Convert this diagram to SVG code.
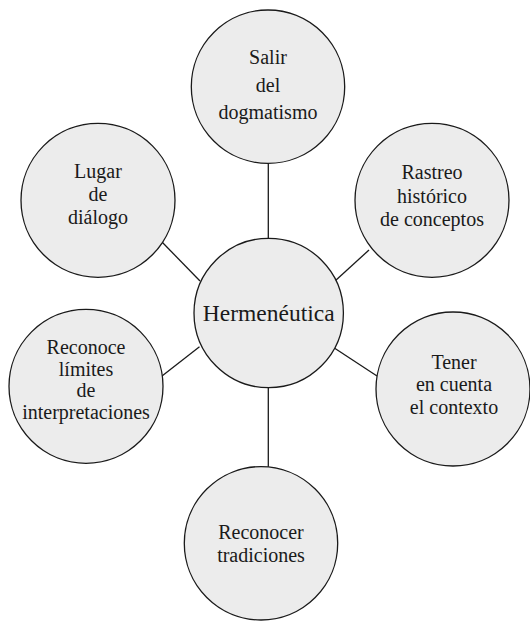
<svg xmlns="http://www.w3.org/2000/svg" width="530" height="621" viewBox="0 0 530 621">
<rect width="530" height="621" fill="#ffffff"/>
<g id="connectors" stroke="#1a1a1a" stroke-width="1.3" fill="none">
<line x1="268.3" y1="163" x2="268.3" y2="240"/>
<line x1="268.3" y1="387" x2="268.3" y2="467"/>
<line x1="162" y1="242" x2="200" y2="281"/>
<line x1="369" y1="250" x2="335" y2="281"/>
<line x1="199.5" y1="346.7" x2="162" y2="376"/>
<line x1="334.7" y1="348.3" x2="377" y2="376"/>
</g>
<g id="salir">
<circle cx="268" cy="86.7" r="76.7" fill="#ececec" stroke="#1a1a1a" stroke-width="1.3"/>
<text x="268" y="63.5" font-family="Liberation Serif" font-size="20" text-anchor="middle" fill="#1a1a1a" style="font-family:'Liberation Serif',serif">Salir</text>
<text x="268" y="91.5" font-family="Liberation Serif" font-size="20" text-anchor="middle" fill="#1a1a1a" style="font-family:'Liberation Serif',serif">del</text>
<text x="268" y="119" font-family="Liberation Serif" font-size="20" text-anchor="middle" fill="#1a1a1a" style="font-family:'Liberation Serif',serif">dogmatismo</text>
</g>
<g id="lugar">
<circle cx="98" cy="200.3" r="77" fill="#ececec" stroke="#1a1a1a" stroke-width="1.3"/>
<text x="98" y="177.5" font-family="Liberation Serif" font-size="20" text-anchor="middle" fill="#1a1a1a" style="font-family:'Liberation Serif',serif">Lugar</text>
<text x="98" y="201" font-family="Liberation Serif" font-size="20" text-anchor="middle" fill="#1a1a1a" style="font-family:'Liberation Serif',serif">de</text>
<text x="98" y="224" font-family="Liberation Serif" font-size="20" text-anchor="middle" fill="#1a1a1a" style="font-family:'Liberation Serif',serif">diálogo</text>
</g>
<g id="rastreo">
<circle cx="432" cy="200.3" r="77" fill="#ececec" stroke="#1a1a1a" stroke-width="1.3"/>
<text x="432" y="179" font-family="Liberation Serif" font-size="20" text-anchor="middle" fill="#1a1a1a" style="font-family:'Liberation Serif',serif">Rastreo</text>
<text x="432" y="202.5" font-family="Liberation Serif" font-size="20" text-anchor="middle" fill="#1a1a1a" style="font-family:'Liberation Serif',serif">histórico</text>
<text x="432" y="226" font-family="Liberation Serif" font-size="20" text-anchor="middle" fill="#1a1a1a" style="font-family:'Liberation Serif',serif">de conceptos</text>
</g>
<g id="hermeneutica">
<circle cx="268.7" cy="313" r="74.7" fill="#ececec" stroke="#1a1a1a" stroke-width="1.3"/>
<text x="268.7" y="320.7" font-family="Liberation Serif" font-size="23.5" text-anchor="middle" fill="#1a1a1a" style="font-family:'Liberation Serif',serif">Hermenéutica</text>
</g>
<g id="reconoce">
<circle cx="86" cy="386.3" r="77" fill="#ececec" stroke="#1a1a1a" stroke-width="1.3"/>
<text x="86" y="354.3" font-family="Liberation Serif" font-size="20" text-anchor="middle" fill="#1a1a1a" style="font-family:'Liberation Serif',serif">Reconoce</text>
<text x="86" y="376.3" font-family="Liberation Serif" font-size="20" text-anchor="middle" fill="#1a1a1a" style="font-family:'Liberation Serif',serif">límites</text>
<text x="86" y="397" font-family="Liberation Serif" font-size="20" text-anchor="middle" fill="#1a1a1a" style="font-family:'Liberation Serif',serif">de</text>
<text x="86" y="418.7" font-family="Liberation Serif" font-size="20" text-anchor="middle" fill="#1a1a1a" style="font-family:'Liberation Serif',serif">interpretaciones</text>
</g>
<g id="tener">
<circle cx="453" cy="389" r="77" fill="#ececec" stroke="#1a1a1a" stroke-width="1.3"/>
<text x="454" y="368.5" font-family="Liberation Serif" font-size="20" text-anchor="middle" fill="#1a1a1a" style="font-family:'Liberation Serif',serif">Tener</text>
<text x="454" y="391" font-family="Liberation Serif" font-size="20" text-anchor="middle" fill="#1a1a1a" style="font-family:'Liberation Serif',serif">en cuenta</text>
<text x="454" y="413.7" font-family="Liberation Serif" font-size="20" text-anchor="middle" fill="#1a1a1a" style="font-family:'Liberation Serif',serif">el contexto</text>
</g>
<g id="tradiciones">
<circle cx="261" cy="543.3" r="76.7" fill="#ececec" stroke="#1a1a1a" stroke-width="1.3"/>
<text x="261" y="538.5" font-family="Liberation Serif" font-size="20" text-anchor="middle" fill="#1a1a1a" style="font-family:'Liberation Serif',serif">Reconocer</text>
<text x="261" y="562" font-family="Liberation Serif" font-size="20" text-anchor="middle" fill="#1a1a1a" style="font-family:'Liberation Serif',serif">tradiciones</text>
</g>
</svg>
